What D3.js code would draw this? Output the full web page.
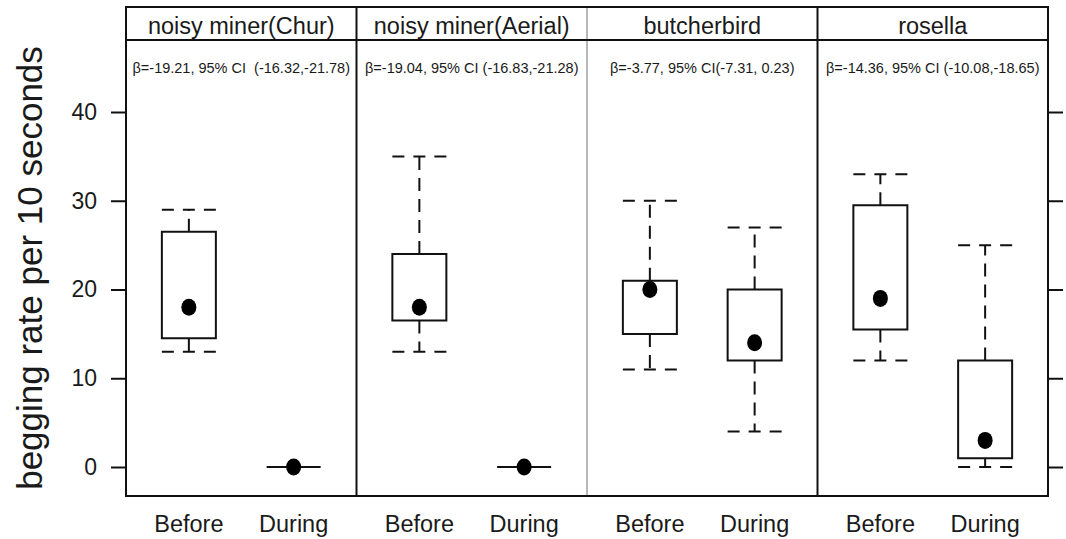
<!DOCTYPE html>
<html lang="en">
<head>
<meta charset="UTF-8">
<title>Begging rate before and during</title>
<script src="https://d3js.org/d3.v7.min.js"></script>
<style>
  body { margin: 0; background: #fff; }
  svg { display: block; font-family: "Liberation Sans", Arial, sans-serif; }
  text { fill: #1a1a1a; }
</style>
</head>
<body>
<svg width="1066" height="539"></svg>
<script>
// Data
const species = ["noisy miner(Chur)", "noisy miner(Aerial)", "butcherbird", "rosella"];
const periods = ["Before", "During"];
const annotations = [
    "β=-19.21, 95% CI  (-16.32,-21.78)",
    "β=-19.04, 95% CI (-16.83,-21.28)",
    "β=-3.77, 95% CI(-7.31, 0.23)",
    "β=-14.36, 95% CI (-10.08,-18.65)"
];
const yTicks = [0, 10, 20, 30, 40];

// per species: [Before, During]
const whiskerLow  = [[13, 0], [13, 0], [11, 4],  [12, 0]];
const q1          = [[14.5, 0], [16.5, 0], [15, 12], [15.5, 1]];
const median      = [[18, 0], [18, 0], [20, 14], [19, 3]];
const q3          = [[26.5, 0], [24, 0], [21, 20], [29.5, 12]];
const whiskerHigh = [[29, 0], [35, 0], [30, 27], [33, 25]];

const svg = d3.select("svg");
const frameLeft = 126, frameRight = 1048, frameTop = 7, stripBottom = 40, frameBottom = 496;
const boxW = 54;
const ink = "#111";

const y = d3.scaleLinear().domain([0, 40]).range([467, 112]);
const panelX = d3.scaleBand().domain(species).range([frameLeft, frameRight]);
const innerX = d3.scalePoint().domain(periods).range([0, panelX.bandwidth()]).padding(0.6);

// y axis (left, labelled)
const yAxis = svg.append("g")
    .attr("transform", `translate(${frameLeft},0)`)
    .call(d3.axisLeft(y).tickValues(yTicks).tickSize(15).tickPadding(14));
yAxis.select(".domain").remove();
yAxis.selectAll("line").attr("stroke", ink).attr("stroke-width", 2);
yAxis.selectAll("text").attr("font-size", 23).attr("font-family", "Liberation Sans, Arial, sans-serif").attr("fill", "#1a1a1a");

// right side ticks, no labels
const yAxisR = svg.append("g")
    .attr("transform", `translate(${frameRight},0)`)
    .call(d3.axisRight(y).tickValues(yTicks).tickSize(15).tickFormat(""));
yAxisR.select(".domain").remove();
yAxisR.selectAll("line").attr("stroke", ink).attr("stroke-width", 2);

svg.append("text")
    .attr("transform", "translate(42,268) rotate(-90)")
    .attr("text-anchor", "middle")
    .attr("font-size", 35)
    .text("begging rate per 10 seconds");

// panels
species.forEach((s, i) => {
    const g = svg.append("g").attr("transform", `translate(${panelX(s)},0)`);
    const bw = panelX.bandwidth();

    g.append("text")
        .attr("x", bw / 2).attr("y", 34)
        .attr("text-anchor", "middle")
        .attr("font-size", 23.5)
        .text(s);

    g.append("text")
        .attr("x", bw / 2).attr("y", 73)
        .attr("text-anchor", "middle")
        .attr("font-size", 14.5)
        .style("white-space", "pre")
        .text(annotations[i]);

    periods.forEach((p, j) => {
        const cx = innerX(p);
        const x0 = cx - boxW / 2, x1 = cx + boxW / 2;
        const lo = whiskerLow[i][j], a = q1[i][j], m = median[i][j], b = q3[i][j], hi = whiskerHigh[i][j];

        // whiskers + caps
        [[b, hi], [a, lo]].forEach(([edge, end]) => {
            if (edge === end) return;
            g.append("line")
                .attr("x1", cx).attr("x2", cx)
                .attr("y1", y(edge)).attr("y2", y(end))
                .attr("stroke", ink).attr("stroke-width", 2)
                .attr("stroke-dasharray", "13,8");
            g.append("line")
                .attr("x1", x0).attr("x2", x1)
                .attr("y1", y(end)).attr("y2", y(end))
                .attr("stroke", ink).attr("stroke-width", 2)
                .attr("stroke-dasharray", "12,9");
        });

        // box (path so a zero-height box still shows as a line)
        g.append("path")
            .attr("d", `M${x0},${y(b)}H${x1}V${y(a)}H${x0}Z`)
            .attr("fill", "#fff")
            .attr("stroke", ink).attr("stroke-width", 2);

        g.append("ellipse")
            .attr("cx", cx).attr("cy", y(m))
            .attr("rx", 7.5).attr("ry", 8.5)
            .attr("fill", "#000");

        svg.append("text")
            .attr("x", panelX(s) + cx).attr("y", 532)
            .attr("text-anchor", "middle")
            .attr("font-size", 23.5)
            .text(p);
    });

    // panel divider
    if (i > 0) {
        svg.append("line")
            .attr("x1", panelX(s)).attr("x2", panelX(s))
            .attr("y1", frameTop).attr("y2", frameBottom)
            .attr("stroke", i === 2 ? "#888" : ink)
            .attr("stroke-width", i === 2 ? 1.2 : 2);
    }
});

// frame and strip line
svg.append("rect")
    .attr("x", frameLeft).attr("y", frameTop)
    .attr("width", frameRight - frameLeft).attr("height", frameBottom - frameTop)
    .attr("fill", "none").attr("stroke", ink).attr("stroke-width", 2);
svg.append("line")
    .attr("x1", frameLeft).attr("x2", frameRight)
    .attr("y1", stripBottom).attr("y2", stripBottom)
    .attr("stroke", ink).attr("stroke-width", 2);
</script>
</body>
</html>
